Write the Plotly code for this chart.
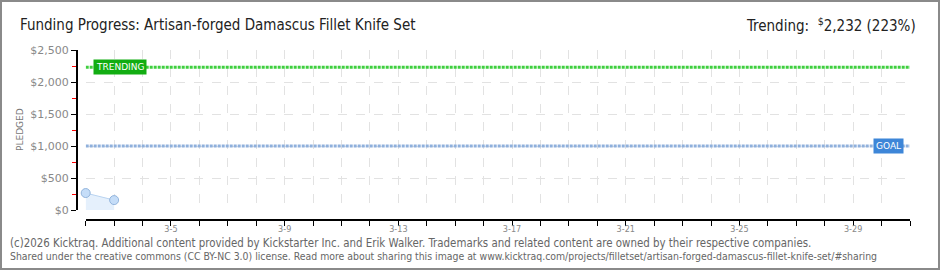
import plotly.graph_objects as go

# ---- data ----
dates = ["2026-03-02", "2026-03-03"]
pledged = [265, 155]
axis_start = "2026-03-02"
axis_end = "2026-03-31"
goal = 1000
trending = 2232
trending_pct = 223
title_text = "Funding Progress: Artisan-forged Damascus Fillet Knife Set"
footer1 = ("(c)2026 Kicktraq. Additional content provided by Kickstarter Inc. and Erik Walker. "
           "Trademarks and related content are owned by their respective companies.")
footer2 = ("Shared under the creative commons (CC BY-NC 3.0) license. Read more about sharing this image at "
           "www.kicktraq.com/projects/filletset/artisan-forged-damascus-fillet-knife-set/#sharing")

W, H = 940, 270
L, R = 77, 30
T, B = 50, 50
PW = W - L - R
PH = H - T - B


def px(x):
    return (x - L) / PW


def py(y):
    return (H - B - y) / PH


NARROW = "DejaVu Sans Condensed, sans-serif"
DAY = 86400000

fig = go.Figure()

fig.add_trace(go.Scatter(
    x=[axis_start, axis_end], y=[trending, trending], mode="lines",
    line=dict(color="#3fcf3f", width=3, dash="3px,1px"), hoverinfo="skip", showlegend=False))
fig.add_trace(go.Scatter(
    x=[axis_start, axis_end], y=[goal, goal], mode="lines",
    line=dict(color="#8fb0dc", width=3, dash="3px,1px"), hoverinfo="skip", showlegend=False))
fig.add_trace(go.Scatter(
    x=dates, y=pledged, mode="lines+markers", fill="tozeroy",
    fillcolor="rgba(225,237,252,0.85)", cliponaxis=False,
    line=dict(color="#b9d3f0", width=1),
    marker=dict(size=9, color="#c5ddf8", line=dict(color="#93b5dd", width=1)),
    showlegend=False))

fig.update_layout(
    width=W, height=H,
    margin=dict(l=L, r=R, t=T, b=B),
    paper_bgcolor="white", plot_bgcolor="white",
    title=dict(text=title_text, x=20 / W, xref="container", xanchor="left",
               y=1 - 25 / H, yref="container", yanchor="middle",
               font=dict(family=NARROW, size=15, color="#222")),
    xaxis=dict(
        type="date", range=[axis_start, axis_end],
        domain=[px(85.7), 1], anchor="free", position=0,
        tick0="2026-03-05", dtick=4 * DAY, tickformat="%-m-%-d",
        ticks="outside", ticklen=5, tickwidth=1, tickcolor="black",
        ticklabelstandoff=-5,
        showline=True, linecolor="black", linewidth=2,
        showgrid=True, gridcolor="#e2e2e2", griddash="dash", gridwidth=1,
        tickfont=dict(family="DejaVu Sans Condensed, sans-serif", size=9, color="#888"),
        minor=dict(dtick=DAY, tick0=axis_start, ticks="outside", ticklen=5, tickcolor="black",
                   showgrid=True, gridcolor="#e2e2e2", griddash="dash", gridwidth=1),
        zeroline=False, fixedrange=True,
    ),
    yaxis=dict(
        range=[0, 2500], domain=[10 / PH, 1], anchor="free", position=0,
        dtick=500, tickprefix="$", tickformat=",d",
        ticks="outside", ticklen=5, tickwidth=1, tickcolor="black",
        showline=True, linecolor="black", linewidth=2,
        showgrid=True, gridcolor="#e2e2e2", griddash="dash", gridwidth=1,
        tickfont=dict(family="DejaVu Sans, sans-serif", size=11, color="#888"),
        minor=dict(dtick=250, ticks="outside", ticklen=4, tickcolor="red", showgrid=False),
        zeroline=False, fixedrange=True,
    ),
)

annotations = [
    dict(text="Trending:&nbsp;&nbsp;<sup>$</sup>{:,} ({}%)".format(trending, trending_pct),
         x=px(918), y=py(25), xref="paper", yref="paper", xanchor="right", yanchor="middle",
         showarrow=False, font=dict(family=NARROW, size=15, color="#222")),
    dict(text="PLEDGED", x=px(20), y=py(130), xref="paper", yref="paper", textangle=-90,
         xanchor="center", yanchor="middle", showarrow=False,
         font=dict(family="DejaVu Sans, sans-serif", size=9, color="#777")),
    dict(text="TRENDING", x=px(93), y=trending, xref="paper", yref="y", xanchor="left",
         yanchor="middle", showarrow=False, bgcolor="#12ad12", borderpad=2,
         font=dict(family="DejaVu Sans, sans-serif", size=9, color="white")),
    dict(text="GOAL", x=px(904), y=goal, xref="paper", yref="y", xanchor="right",
         yanchor="middle", showarrow=False, bgcolor="#3d86d8", borderpad=2,
         font=dict(family="DejaVu Sans, sans-serif", size=9, color="white")),
    dict(text=footer1, x=px(8), y=py(243), xref="paper", yref="paper", xanchor="left",
         yanchor="middle", showarrow=False,
         font=dict(family=NARROW, size=11.4, color="#666")),
    dict(text=footer2, x=px(8), y=py(256), xref="paper", yref="paper", xanchor="left",
         yanchor="middle", showarrow=False,
         font=dict(family=NARROW, size=10.4, color="#666")),
]
fig.update_layout(annotations=annotations)

fig.add_shape(type="rect", xref="paper", yref="paper",
              x0=px(1), x1=px(W - 1), y0=py(H - 1), y1=py(1),
              line=dict(color="#8a8a8a", width=2), fillcolor="rgba(0,0,0,0)", layer="above")

fig.write_html("out.html")
